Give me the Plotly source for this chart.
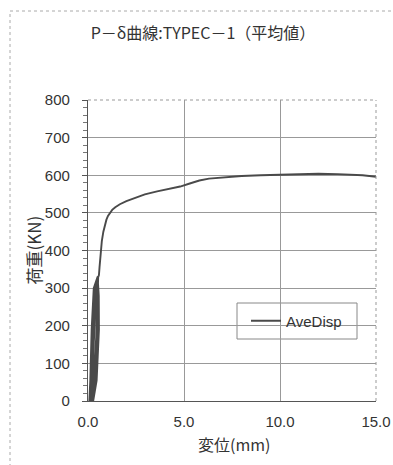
import plotly.graph_objects as go

# Displacement (mm) and load (kN) (cyclic loops, then envelope)
disp = [0.07, 0.12, 0.19, 0.30, 0.50,
        0.56, 0.57, 0.45, 0.27,
        0.25, 0.30, 0.40, 0.52,
        0.52, 0.51, 0.38, 0.20,
        0.16, 0.24, 0.35, 0.51,
        0.54, 0.54, 0.42, 0.24,
        0.20, 0.34, 0.45, 0.53,
        0.48, 0.45, 0.30, 0.12,
        0.15, 0.22, 0.33, 0.50, 0.57,
        0.60, 0.65, 0.72, 0.80, 0.88, 0.96, 1.04, 1.14, 1.26, 1.42, 1.66, 2.00, 2.50,
        2.96, 3.60, 4.20, 4.80,
        5.30, 5.80, 6.30, 7.00, 8.00, 9.00, 10.00, 11.00, 12.00, 13.00, 13.60, 14.30, 15.00]
load = [0, 55, 190, 300, 330,
        280, 190, 55, 0,
        55, 190, 300, 330,
        280, 190, 55, 0,
        55, 190, 300, 330,
        260, 190, 55, 0,
        55, 190, 300, 330,
        250, 190, 55, 0,
        55, 190, 300, 325, 335,
        355, 390, 425, 450, 468, 482, 492, 500, 508, 515, 523, 531, 541,
        549, 557, 563, 570,
        578, 586, 591, 594, 598, 600, 602, 604, 604, 603, 602, 600, 596]

series_name = "AveDisp"
title_text = "P－δ曲線:TYPEC－1（平均値）"
x_title = "変位(mm)"
y_title = "荷重(KN)"
x_ticks = [0, 5, 10, 15]
y_ticks = [0, 100, 200, 300, 400, 500, 600, 700, 800]

W, H = 393, 465
L, R, T, B = 88, 17, 100, 64
pw, ph = W - L - R, H - T - B

def px_x(p):
    return (p - L) / pw

def px_y(p):
    return (H - B - p) / ph

num_font = "Liberation Sans, Arial, sans-serif"
jp_font = "Noto Sans CJK JP, sans-serif"

fig = go.Figure()
fig.add_trace(go.Scatter(x=disp, y=load, mode="lines", name=series_name,
                         line=dict(color="#4a4a4a", width=1.9), showlegend=True))

fig.update_layout(
    width=W, height=H,
    margin=dict(l=L, r=R, t=T, b=B, autoexpand=False),
    paper_bgcolor="white", plot_bgcolor="white",
    showlegend=True,
    legend=dict(x=px_x(246), y=px_y(321), xanchor="left", yanchor="middle",
                bgcolor="rgba(0,0,0,0)", borderwidth=0,
                font=dict(family=num_font, size=15, color="#333")),
    title=dict(text=title_text, x=203 / W, xanchor="center", y=1 - 33 / H, yanchor="middle",
               font=dict(family=jp_font, size=16, color="#333")),
)

fig.update_xaxes(range=[0, 15], tickvals=x_ticks, tickformat=".1f",
                 showgrid=True, gridcolor="#999", gridwidth=1,
                 showline=True, linecolor="#555", linewidth=1.2,
                 ticks="", ticklabelstandoff=7, zeroline=False, automargin=False,
                 tickfont=dict(family=num_font, size=15, color="#333"))
fig.update_yaxes(range=[0, 800], tickvals=y_ticks,
                 showgrid=True, gridcolor="#999", gridwidth=1,
                 showline=True, linecolor="#555", linewidth=1.2,
                 ticks="outside", ticklen=5, tickcolor="#555", ticklabelstandoff=9,
                 minor=dict(ticks="outside", ticklen=4, dtick=20, tickcolor="#777", showgrid=False),
                 zeroline=False, automargin=False,
                 tickfont=dict(family=num_font, size=15, color="#333"))

# axis titles
fig.add_annotation(text=y_title, xref="paper", yref="paper", x=px_x(33), y=0.5,
                   textangle=-90, showarrow=False, xanchor="center", yanchor="middle",
                   font=dict(family=jp_font, size=17, color="#333"))
fig.add_annotation(text=x_title, xref="paper", yref="paper", x=px_x(234), y=px_y(444),
                   showarrow=False, xanchor="center", yanchor="middle",
                   font=dict(family=jp_font, size=16, color="#333"))

# top/right plot border (dotted)
fig.add_shape(type="line", xref="paper", yref="paper", x0=0, x1=1, y0=1, y1=1,
              line=dict(color="#999", width=1, dash="dot"))
fig.add_shape(type="line", xref="paper", yref="paper", x0=1, x1=1, y0=0, y1=1,
              line=dict(color="#999", width=1, dash="dot"))
# legend box
fig.add_shape(type="rect", xref="paper", yref="paper",
              x0=px_x(237), x1=px_x(357), y0=px_y(339), y1=px_y(303),
              line=dict(color="#888", width=1), fillcolor="white", layer="below")
# outer chart frame
fig.add_shape(type="rect", xref="paper", yref="paper",
              x0=px_x(10), x1=px_x(400), y0=px_y(470), y1=px_y(11),
              line=dict(color="#aaa", width=1, dash="dot"))

fig.write_html("out.html", config={"displayModeBar": False},
               post_script="document.body.style.margin='0';")
